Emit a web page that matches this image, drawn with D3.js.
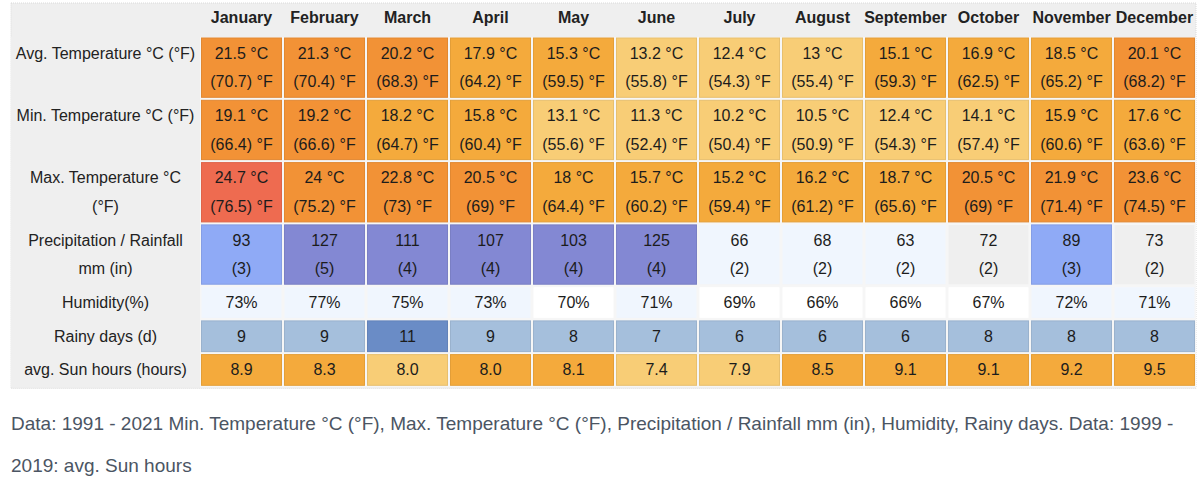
<!DOCTYPE html>
<html lang="en">
<head>
<meta charset="UTF-8">
<title>Climate table</title>
<script src="https://cdn.jsdelivr.net/npm/d3@7"></script>
<style>
  body { margin: 0; background: #ffffff; }
  svg text { font-family: "Liberation Sans", Arial, Helvetica, sans-serif; }
</style>
</head>
<body>
<div id="chart"></div>
<script>
const months = ["January", "February", "March", "April", "May", "June",
                "July", "August", "September", "October", "November", "December"];

const avgC = [21.5, 21.3, 20.2, 17.9, 15.3, 13.2, 12.4, 13, 15.1, 16.9, 18.5, 20.1];
const avgF = [70.7, 70.4, 68.3, 64.2, 59.5, 55.8, 54.3, 55.4, 59.3, 62.5, 65.2, 68.2];
const minC = [19.1, 19.2, 18.2, 15.8, 13.1, 11.3, 10.2, 10.5, 12.4, 14.1, 15.9, 17.6];
const minF = [66.4, 66.6, 64.7, 60.4, 55.6, 52.4, 50.4, 50.9, 54.3, 57.4, 60.6, 63.6];
const maxC = [24.7, 24, 22.8, 20.5, 18, 15.7, 15.2, 16.2, 18.7, 20.5, 21.9, 23.6];
const maxF = [76.5, 75.2, 73, 69, 64.4, 60.2, 59.4, 61.2, 65.6, 69, 71.4, 74.5];
const precipMm = [93, 127, 111, 107, 103, 125, 66, 68, 63, 72, 89, 73];
const precipIn = [3, 5, 4, 4, 4, 4, 2, 2, 2, 2, 3, 2];
const humidity = [73, 77, 75, 73, 70, 71, 69, 66, 66, 67, 72, 71];
const rainyDays = [9, 9, 11, 9, 8, 7, 6, 6, 6, 8, 8, 8];
// march / april both show 8.0 but are coloured differently
const sunHours = [8.9, 8.3, 7.98, 8.02, 8.1, 7.4, 7.9, 8.5, 9.1, 9.1, 9.2, 9.5];

const caption = [
  "Data: 1991 - 2021 Min. Temperature °C (°F), Max. Temperature °C (°F), Precipitation / Rainfall mm (in), Humidity, Rainy days. Data: 1999 -",
  "2019: avg. Sun hours"
];

// ---- colour scales ----
const tempColor = d3.scaleThreshold()
  .domain([15, 19, 24.5])
  .range(["#f8cd76", "#f4aa3c", "#f29236", "#ee6b50"]);
const rainColor = d3.scaleThreshold()
  .domain([70, 80, 100])
  .range(["#f0f6fe", "#efefef", "#8faaf6", "#8388d3"]);
const humColor = d3.scaleThreshold()
  .domain([71])
  .range(["#ffffff", "#f0f6fe"]);
const daysColor = d3.scaleThreshold()
  .domain([10])
  .range(["#a5bfdc", "#6a8cc6"]);
const sunColor = d3.scaleThreshold()
  .domain([8])
  .range(["#f8cd76", "#f4aa3c"]);

const fmt1 = d3.format(".1f");

const rows = [
  { label: ["Avg. Temperature °C (°F)"],
    text: i => [avgC[i] + " °C", "(" + avgF[i] + ") °F"], fill: i => tempColor(avgC[i]) },
  { label: ["Min. Temperature °C (°F)"],
    text: i => [minC[i] + " °C", "(" + minF[i] + ") °F"], fill: i => tempColor(minC[i]) },
  { label: ["Max. Temperature °C", "(°F)"],
    text: i => [maxC[i] + " °C", "(" + maxF[i] + ") °F"], fill: i => tempColor(maxC[i]) },
  { label: ["Precipitation / Rainfall", "mm (in)"],
    text: i => [String(precipMm[i]), "(" + precipIn[i] + ")"], fill: i => rainColor(precipMm[i]) },
  { label: ["Humidity(%)"],
    text: i => [humidity[i] + "%"], fill: i => humColor(humidity[i]) },
  { label: ["Rainy days (d)"],
    text: i => [String(rainyDays[i])], fill: i => daysColor(rainyDays[i]) },
  { label: ["avg. Sun hours (hours)"],
    text: i => [fmt1(sunHours[i])], fill: i => sunColor(sunHours[i]) }
];

// ---- layout ----
const W = 1200, H = 489;
const tLeft = 11, tRight = 1196, tTop = 3, labelRight = 200, headBottom = 37;
const lineH = 28.6, pad = 5.1;

rows.forEach(r => r.n = Math.max(r.label.length, r.text(0).length));
const rowH = rows.map(r => pad + lineH * r.n);
const rowTop = [headBottom, ...d3.cumsum(rowH).map(v => headBottom + v)];
const tBottom = rowTop[rows.length];

const x = d3.scaleBand().domain(months).range([labelRight, tRight]);

const svg = d3.select("#chart").append("svg")
  .attr("width", W)
  .attr("height", H);

// table background
svg.append("rect")
  .attr("x", tLeft).attr("y", tTop)
  .attr("width", tRight - tLeft).attr("height", tBottom - tTop + 1)
  .attr("fill", "#efefef")
  .attr("stroke", "#dadada")
  .attr("stroke-dasharray", "1,1");

svg.append("rect")
  .attr("x", labelRight).attr("y", headBottom)
  .attr("width", tRight - labelRight).attr("height", tBottom - headBottom)
  .attr("fill", "#f6f6f6");

// month headers
svg.append("g").selectAll("text")
  .data(months)
  .join("text")
  .attr("x", d => x(d) + x.bandwidth() / 2)
  .attr("y", 22.5)
  .attr("text-anchor", "middle")
  .attr("font-size", 16)
  .attr("font-weight", "bold")
  .attr("fill", "#222")
  .text(d => d);

const rowG = svg.append("g").selectAll("g")
  .data(rows)
  .join("g")
  .attr("transform", (d, r) => `translate(0,${rowTop[r]})`);

rowG.each(function(row, r) {
  const g = d3.select(this);
  const h = rowH[r];

  g.append("rect")
    .attr("x", tLeft).attr("y", 0)
    .attr("width", labelRight - tLeft).attr("height", h)
    .attr("fill", "#efefef");

  g.selectAll("text.label")
    .data(row.label)
    .join("text")
    .attr("class", "label")
    .attr("x", (tLeft + labelRight) / 2)
    .attr("y", (d, k) => pad / 2 + lineH * (k + 0.5) + 4.8)
    .attr("text-anchor", "middle")
    .attr("font-size", 16)
    .attr("fill", "#222")
    .text(d => d);

  const cell = g.selectAll("g.cell")
    .data(months.map((m, i) => ({ m, i })))
    .join("g")
    .attr("class", "cell")
    .attr("transform", d => `translate(${x(d.m)},0)`);

  cell.append("rect")
    .attr("x", 1.5).attr("y", 1)
    .attr("width", x.bandwidth() - 3).attr("height", h - 3)
    .attr("fill", d => row.fill(d.i))
    .attr("stroke", d => {
      const f = row.fill(d.i);
      return (f === "#ffffff" || f === "#efefef" || f === "#f0f6fe") ? "none" : d3.color(f).darker(0.2);
    })
    .attr("stroke-width", 1);

  cell.selectAll("text")
    .data(d => row.text(d.i))
    .join("text")
    .attr("x", x.bandwidth() / 2)
    .attr("y", (d, k) => pad / 2 + lineH * (k + 0.5) + 4.8)
    .attr("text-anchor", "middle")
    .attr("font-size", 16)
    .attr("fill", "#1c1c1c")
    .text(d => d);
});

// source note
svg.append("g").selectAll("text")
  .data(caption)
  .join("text")
  .attr("x", 11)
  .attr("y", (d, k) => 430 + k * 42)
  .attr("font-size", 19)
  .attr("fill", "#4b5563")
  .text(d => d);
</script>
</body>
</html>
